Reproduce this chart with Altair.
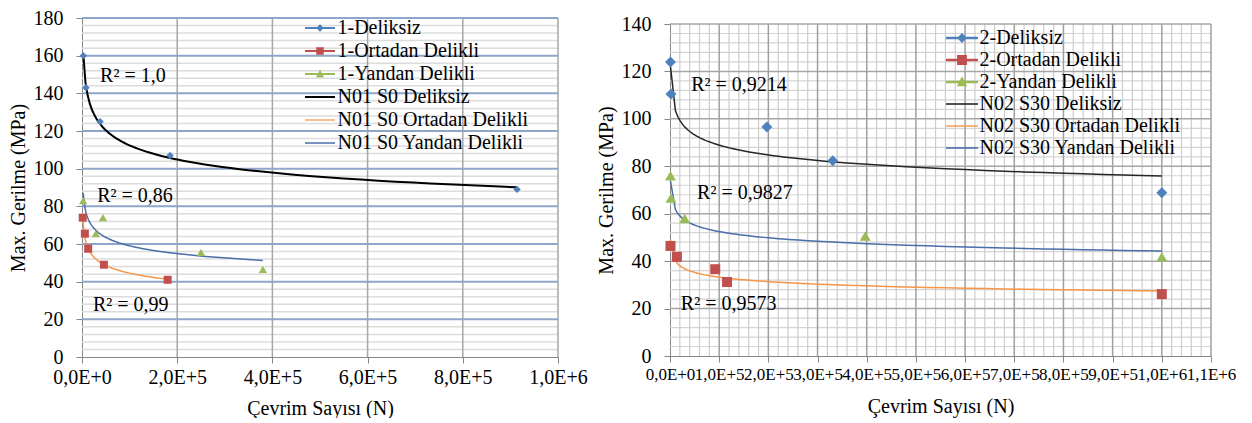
import altair as alt
import pandas as pd

FONT = "Liberation Serif"

# ---------------- data ----------------
# Left panel
L_DEL_N = [2750, 8400, 38000, 185000, 914000]
L_DEL_S = [160, 143, 125, 107, 89]
L_ORT_N = [1500, 6000, 13000, 46000, 180000]
L_ORT_S = [74, 65.5, 57.5, 49, 41]
L_YAN_N = [2500, 29000, 44000, 250000, 380000]
L_YAN_S = [83, 65.5, 74, 55.5, 46.5]

# Right panel
R_DEL_N = [1000, 2000, 197000, 331000, 1000000]
R_DEL_S = [124, 110.5, 96.6, 82.3, 68.8]
R_ORT_N = [1000, 14000, 92000, 116000, 1000000]
R_ORT_S = [46.4, 41.8, 36.6, 31.2, 26.1]
R_YAN_N = [1000, 2000, 30000, 397000, 1000000]
R_YAN_S = [76, 66.6, 58, 50.6, 41.8]

L_SERIES = ["1-Deliksiz", "1-Ortadan Delikli", "1-Yandan Delikli",
            "N01 S0 Deliksiz", "N01 S0 Ortadan Delikli", "N01 S0 Yandan Delikli"]
R_SERIES = ["2-Deliksiz", "2-Ortadan Delikli", "2-Yandan Delikli",
            "N02 S30 Deliksiz", "N02 S30 Ortadan Delikli", "N02 S30 Yandan Delikli"]

L_R2_TEXT = ["R² = 1,0", "R² = 0,86", "R² = 0,99"]
L_R2_N = [38000, 32000, 23000]
L_R2_S = [149, 85.5, 27.5]
R_R2_TEXT = ["R² = 0,9214", "R² = 0,9827", "R² = 0,9573"]
R_R2_N = [43000, 55000, 22000]
R_R2_S = [114.3, 68.7, 21.9]

L_XTICKS = [0, 200000, 400000, 600000, 800000, 1000000]
L_YTICKS = [0, 20, 40, 60, 80, 100, 120, 140, 160, 180]
R_XTICKS = [0, 100000, 200000, 300000, 400000, 500000, 600000, 700000,
            800000, 900000, 1000000, 1100000]
R_YTICKS = [0, 20, 40, 60, 80, 100, 120, 140]

# ---------------- styles ----------------
BLUE = "#4F81BD"
RED = "#C0504D"
GREEN = "#9BBB59"
ORANGE = "#F79646"
TBLUE = "#4A6EA8"

XLABEL = "replace(replace(format(datum.value, '.1e'), '.', ','), 'e', 'E')"


def legend_path(kind, half_len, t, m):
    """Legend glyph: a thin filled bar with an optional marker, in [-1,1] units."""
    L = half_len
    if kind == "line":
        pts = [(-L, -t), (L, -t), (L, t), (-L, t)]
    elif kind == "diamond":
        pts = [(-L, -t), (-m + t, -t), (0, -m), (m - t, -t), (L, -t), (L, t),
               (m - t, t), (0, m), (-m + t, t), (-L, t)]
    elif kind == "square":
        pts = [(-L, -t), (-m, -t), (-m, -m), (m, -m), (m, -t), (L, -t), (L, t),
               (m, t), (m, m), (-m, m), (-m, t), (-L, t)]
    else:  # triangle
        h1, h2, w = m * 1.1, m * 0.8, m
        xa = w * (h1 - t) / (h1 + h2)
        xb = w * (h1 + t) / (h1 + h2)
        pts = [(-L, -t), (-xa, -t), (0, -h1), (xa, -t), (L, -t), (L, t),
               (xb, t), (w, h2), (-w, h2), (-xb, t), (-L, t)]
    return "M" + " L".join(f"{x:.3f},{y:.3f}" for x, y in pts) + " Z"


def panel(series, pts, r2, xdom, ydom, xticks, yticks, w, h, ytop, trend_cols,
          trend_widths, msizes, grid, leg, xlabsize, xminor, ytp, xtp):
    xs = alt.Scale(domain=xdom, nice=False, zero=False)
    ys = alt.Scale(domain=ydom, nice=False, zero=False, range=[h, ytop])
    ax_y = alt.Axis(
        values=yticks, title="Max. Gerilme (MPa)", grid=False,
        labelFont=FONT, labelFontSize=20, labelColor="black",
        titleFont=FONT, titleFontSize=20, titleFontWeight="normal",
        titleColor="black", titlePadding=ytp, labelPadding=13,
        tickSize=6, tickColor="#868686", domainColor="#868686")
    ax_x = alt.Axis(
        values=xticks, title="Çevrim Sayısı (N)", grid=False,
        labelExpr=XLABEL, labelOverlap=False, labelFlush=False,
        labelFont=FONT, labelFontSize=xlabsize, labelColor="black",
        titleFont=FONT, titleFontSize=20, titleFontWeight="normal",
        titleColor="black", titlePadding=xtp, labelPadding=4,
        tickSize=6, tickColor="#868686", domainColor="#868686")

    def X(f):
        return alt.X(f, scale=xs, axis=ax_x)

    def Y(f):
        return alt.Y(f, scale=ys, axis=ax_y)

    rows = []
    for name, (ns, ss) in zip(series[:3], pts):
        for n, s in zip(ns, ss):
            rows.append({"series": name, "N": n, "S": s})
    df = pd.DataFrame(rows)

    layers = []
    # grid: minor horizontal
    layers.append(
        alt.Chart(alt.sequence(0, ydom[1] + 1, 4, as_="v"))
        .transform_filter("datum.v % 20 != 0")
        .mark_rule(color=grid["hminor"], strokeWidth=grid["hminor_w"])
        .encode(y=Y("v:Q"))
    )
    if xminor:
        layers.append(
            alt.Chart(alt.sequence(0, xdom[1] + 1, xminor, as_="v"))
            .transform_filter(f"datum.v % {xticks[1]} != 0")
            .transform_calculate(y0=str(ydom[0]), y1=str(ydom[1]))
            .mark_rule(color=grid["vminor"], strokeWidth=grid["vminor_w"])
            .encode(x=X("v:Q"), y=Y("y0:Q"), y2="y1:Q")
        )
    # vertical major
    layers.append(
        alt.Chart(alt.sequence(xticks[1], xdom[1] + 1, xticks[1], as_="v"))
        .transform_calculate(y0=str(ydom[0]), y1=str(ydom[1]))
        .mark_rule(color=grid["vmajor"], strokeWidth=grid["vmajor_w"])
        .encode(x=X("v:Q"), y=Y("y0:Q"), y2="y1:Q")
    )
    # horizontal major
    layers.append(
        alt.Chart(alt.sequence(20, ydom[1] + 1, 20, as_="v"))
        .mark_rule(color=grid["hmajor"], strokeWidth=grid["hmajor_w"])
        .encode(y=Y("v:Q"))
    )
    # trend lines (power regression)
    for name, col, sw in zip(series[:3], trend_cols, trend_widths):
        layers.append(
            alt.Chart(df)
            .transform_filter(alt.datum.series == name)
            .transform_regression("N", "S", method="pow")
            .mark_line(color=col, strokeWidth=sw)
            .encode(x=X("N:Q"), y=Y("S:Q"))
        )
    # data points
    for name, shape, col, sz in zip(series[:3], ["diamond", "square", "triangle-up"],
                                    [BLUE, RED, GREEN], msizes):
        layers.append(
            alt.Chart(df)
            .transform_filter(alt.datum.series == name)
            .mark_point(shape=shape, filled=True, size=sz, color=col, opacity=1)
            .encode(x=X("N:Q"), y=Y("S:Q"))
        )
    # R² labels
    rdf = pd.DataFrame({"t": r2[0], "N": r2[1], "S": r2[2]})
    layers.append(
        alt.Chart(rdf)
        .mark_text(align="left", baseline="middle", font=FONT, fontSize=20, color="black")
        .encode(x=X("N:Q"), y=Y("S:Q"), text="t:N")
    )
    # legend carrier (invisible marks)
    u, t1, mk = leg["unit"], leg["t"], leg["m"]
    paths = [legend_path("diamond", leg["L"], t1, mk),
             legend_path("square", leg["L"], t1, mk),
             legend_path("triangle", leg["L"], t1, mk * 1.05),
             legend_path("line", leg["L"], leg["tt"][0], 0),
             legend_path("line", leg["L"], leg["tt"][1], 0),
             legend_path("line", leg["L"], leg["tt"][2], 0)]
    lcols = [BLUE, RED, GREEN] + list(trend_cols)
    lg = dict(title=None, orient="none", legendX=leg["x"], legendY=leg["y"],
              labelFont=FONT, labelFontSize=20, labelColor="black",
              symbolSize=u * u, rowPadding=leg["rp"], labelOffset=leg["lo"],
              padding=0, symbolStrokeWidth=0, symbolOpacity=1, labelLimit=400)
    layers.append(
        alt.Chart(df)
        .mark_point(filled=True, size=0, opacity=1)
        .encode(x=X("N:Q"), y=Y("S:Q"),
                color=alt.Color("series:N", scale=alt.Scale(domain=series, range=lcols),
                                legend=alt.Legend(**lg)),
                shape=alt.Shape("series:N", scale=alt.Scale(domain=series, range=paths),
                                legend=alt.Legend(**lg)))
    )
    return alt.layer(*layers).properties(width=w, height=h)


left = panel(
    L_SERIES,
    [(L_DEL_N, L_DEL_S), (L_ORT_N, L_ORT_S), (L_YAN_N, L_YAN_S)],
    (L_R2_TEXT, L_R2_N, L_R2_S),
    [0, 1000000], [0, 180], L_XTICKS, L_YTICKS, 476, 339, 0,
    ["#000000", ORANGE, TBLUE], [2, 1.5, 1.5], [55, 64, 70],
    dict(hminor="#DCDCDC", hminor_w=1.5, hmajor="#8EA6C9", hmajor_w=2,
         vmajor="#A6A6A6", vmajor_w=1.5, vminor="#DCDCDC", vminor_w=1),
    dict(unit=25, L=1.2, t=0.08, m=0.3, tt=(0.08, 0.05, 0.06),
         x=225.5, y=-2.5, rp=0, lo=5),
    20, None, 5, 11,
)

right = panel(
    R_SERIES,
    [(R_DEL_N, R_DEL_S), (R_ORT_N, R_ORT_S), (R_YAN_N, R_YAN_S)],
    (R_R2_TEXT, R_R2_N, R_R2_S),
    [0, 1100000], [0, 140], R_XTICKS, R_YTICKS, 541, 338, 6,
    ["#262626", ORANGE, TBLUE], [1.5, 1.5, 1.5], [120, 100, 120],
    dict(hminor="#D4D4D4", hminor_w=1.2, hmajor="#A6A6A6", hmajor_w=1.5,
         vmajor="#A0A0A0", vmajor_w=1.5, vminor="#CDCDCD", vminor_w=1.2),
    dict(unit=23, L=1.39, t=0.11, m=0.43, tt=(0.07, 0.06, 0.07),
         x=280.5, y=8.5, rp=0, lo=6),
    17, 20000, 5, 14,
)

chart = (
    alt.hconcat(left, right, spacing=8)
    .resolve_scale(color="independent", shape="independent", x="independent", y="independent")
    .resolve_legend(color="independent", shape="independent")
    .properties(padding=0)
    .configure_view(stroke=None)
)

chart.save("out.html", embed_options={"renderer": "svg", "actions": False})
